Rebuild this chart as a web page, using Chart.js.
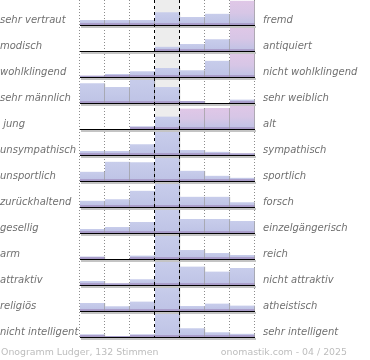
<!DOCTYPE html>
<html>
<head>
<meta charset="utf-8">
<script src="https://cdn.jsdelivr.net/npm/chart.js@4.4.0/dist/chart.umd.min.js"></script>
<style>
  html, body { margin: 0; padding: 0; background: #fff; }
</style>
</head>
<body>
<canvas id="onogramm" width="370" height="360"></canvas>
<script>
// 7 Stufen zwischen linkem und rechtem Begriff
var columns = ['1', '2', '3', '4', '5', '6', '7'];

var leftLabels = ['sehr vertraut', 'modisch', 'wohlklingend', 'sehr männlich', ' jung',
  'unsympathisch', 'unsportlich', 'zurückhaltend', 'gesellig', 'arm', 'attraktiv',
  'religiös', 'nicht intelligent'];

var rightLabels = ['fremd', 'antiquiert', 'nicht wohlklingend', 'sehr weiblich', 'alt',
  'sympathisch', 'sportlich', 'forsch', 'einzelgängerisch', 'reich', 'nicht attraktiv',
  'atheistisch', 'sehr intelligent'];

// bar heights per row (one row = 26 units)
var r1 = [5, 5, 5, 12.7, 8, 11.3, 24.3];
var r2 = [0, 0, 0, 4.3, 7, 11.7, 25];
var r3 = [1.5, 3, 5.7, 9, 6.7, 16.3, 23.7];
var r4 = [19.7, 16, 25.5, 16, 2, 0, 3.4];
var r5 = [0, 0, 2.7, 12.4, 20.4, 21, 25];
var r6 = [4, 4, 10.7, 24, 5, 3.3, 1.7];
var r7 = [9.3, 19.3, 18.7, 23.3, 10.3, 5.3, 3.3];
var r8 = [6.3, 7.7, 16.3, 24.3, 10.3, 10.3, 4.7];
var r9 = [4, 6, 11, 23.4, 14, 14, 12];
var r10 = [2.6, 0, 3.5, 24, 9, 6, 4];
var r11 = [4, 1.7, 5.7, 24.7, 18.4, 13.4, 17];
var r12 = [8, 4.7, 9.4, 25, 5, 7.4, 5.4];
var r13 = [2.7, 1, 2.7, 24.3, 8.7, 4.7, 3.3];
var rows = [r1, r2, r3, r4, r5, r6, r7, r8, r9, r10, r11, r12, r13];

var footerLeft = 'Onogramm Ludger, 132 Stimmen';
var footerRight = 'onomastik.com - 04 / 2025';

var ROW = 26;
var nRows = leftLabels.length;
var midCol = 3;

function rowBase(i) { return (nRows - 1 - i) * ROW; }
function rowOf(v) { return nRows - 1 - Math.round((v - 5) / ROW); }

function barFill(c) {
  var chart = c.chart;
  var raw = c.raw;
  if (!chart.chartArea || !raw) return '#c4c9e8';
  var y = chart.scales.y;
  var top = y.getPixelForValue(raw[1]);
  var bot = y.getPixelForValue(raw[0]);
  var h = bot - top;
  if (h < 2.5) return '#aaa0cb';
  var pink = c.dataIndex > midCol && (raw[1] - raw[0]) >= 20;
  var s = (h - 2) / h;
  var g = chart.ctx.createLinearGradient(0, top, 0, bot);
  if (pink) {
    g.addColorStop(0, '#e0c7e7');
    g.addColorStop(s * 0.55, '#d7c6e6');
    g.addColorStop(s, '#c2c3e5');
  } else {
    g.addColorStop(0, '#c8cdeb');
    g.addColorStop(s, '#bfc4e6');
  }
  g.addColorStop(s, '#ab9fcb');
  g.addColorStop(1, '#a69ac7');
  return g;
}

var datasets = rows.map(function (vals, i) {
  return {
    label: leftLabels[i],
    data: vals.map(function (v) { return [rowBase(i), rowBase(i) + v]; }),
    grouped: false,
    barPercentage: 1,
    categoryPercentage: 1,
    backgroundColor: barFill,
    borderColor: '#9a9a9a',
    borderWidth: { top: 0, right: 1, bottom: 0, left: 0 },
    borderSkipped: false
  };
});

var decor = {
  id: 'decor',
  beforeDatasetsDraw: function (chart) {
    var ctx = chart.ctx, x = chart.scales.x, a = chart.chartArea;
    var half = (x.getPixelForValue(1) - x.getPixelForValue(0)) / 2;
    ctx.save();
    ctx.fillStyle = '#ededed';
    ctx.fillRect(x.getPixelForValue(midCol) - half, a.top, half * 2, a.bottom - a.top);
    ctx.strokeStyle = '#8c8c8c';
    ctx.lineWidth = 1;
    ctx.setLineDash([1, 2]);
    for (var k = 0; k <= columns.length; k++) {
      if (k === midCol || k === midCol + 1) continue;
      var px = Math.round(x.getPixelForValue(k) - half) - 0.5;
      ctx.beginPath();
      ctx.moveTo(px, a.top);
      ctx.lineTo(px, a.bottom);
      ctx.stroke();
    }
    ctx.restore();
  },
  afterDatasetsDraw: function (chart) {
    var ctx = chart.ctx, x = chart.scales.x, y = chart.scales.y, a = chart.chartArea;
    var half = (x.getPixelForValue(1) - x.getPixelForValue(0)) / 2;
    ctx.save();
    for (var i = 0; i < nRows; i++) {
      var yp = Math.round(y.getPixelForValue(rowBase(i)));
      ctx.fillStyle = '#c4c4c4';
      ctx.fillRect(a.left + 1, yp + 1, a.right - a.left, 2);
      ctx.fillStyle = '#000';
      ctx.fillRect(a.left, yp, a.right - a.left, 1);
    }
    ctx.strokeStyle = '#000';
    ctx.lineWidth = 1;
    ctx.setLineDash([3, 3]);
    [midCol, midCol + 1].forEach(function (k) {
      var px = Math.round(x.getPixelForValue(k) - half) - 0.5;
      ctx.beginPath();
      ctx.moveTo(px, a.top);
      ctx.lineTo(px, a.bottom);
      ctx.stroke();
    });
    ctx.restore();
  },
  afterDraw: function (chart) {
    var ctx = chart.ctx;
    ctx.save();
    ctx.font = '9.4px "DejaVu Sans"';
    ctx.fillStyle = '#bdbdbd';
    ctx.textBaseline = 'middle';
    ctx.textAlign = 'left';
    ctx.fillText(footerLeft, 1, 352.5);
    ctx.textAlign = 'right';
    ctx.fillText(footerRight, 347, 352.5);
    ctx.restore();
  }
};

var labelFont = { family: 'DejaVu Sans', size: 10, style: 'italic' };

function rowTicks(s) {
  s.ticks = [];
  for (var i = nRows - 1; i >= 0; i--) s.ticks.push({ value: rowBase(i) + 5 });
}

new Chart(document.getElementById('onogramm'), {
  type: 'bar',
  data: { labels: columns, datasets: datasets },
  options: {
    responsive: false,
    animation: false,
    devicePixelRatio: 1,
    layout: { padding: { left: 0, right: 0, top: 0, bottom: 23 } },
    plugins: { legend: { display: false }, tooltip: { enabled: false } },
    scales: {
      x: { display: false },
      y: {
        position: 'left',
        min: 0, max: 337,
        grid: { display: false, drawTicks: false },
        border: { display: false },
        afterBuildTicks: rowTicks,
        ticks: {
          autoSkip: false,
          crossAlign: 'far',
          padding: 0,
          color: '#707070',
          font: labelFont,
          callback: function (v) { return leftLabels[rowOf(v)]; }
        },
        afterFit: function (s) { s.width = 80; s.paddingTop = 0; s.paddingBottom = 0; }
      },
      y2: {
        position: 'right',
        min: 0, max: 337,
        grid: { display: false, drawTicks: false },
        border: { display: false },
        afterBuildTicks: rowTicks,
        ticks: {
          autoSkip: false,
          crossAlign: 'near',
          padding: 8,
          color: '#707070',
          font: labelFont,
          callback: function (v) { return rightLabels[rowOf(v)]; }
        },
        afterFit: function (s) { s.width = 115; s.paddingTop = 0; s.paddingBottom = 0; }
      }
    }
  },
  plugins: [decor]
});
</script>
</body>
</html>
